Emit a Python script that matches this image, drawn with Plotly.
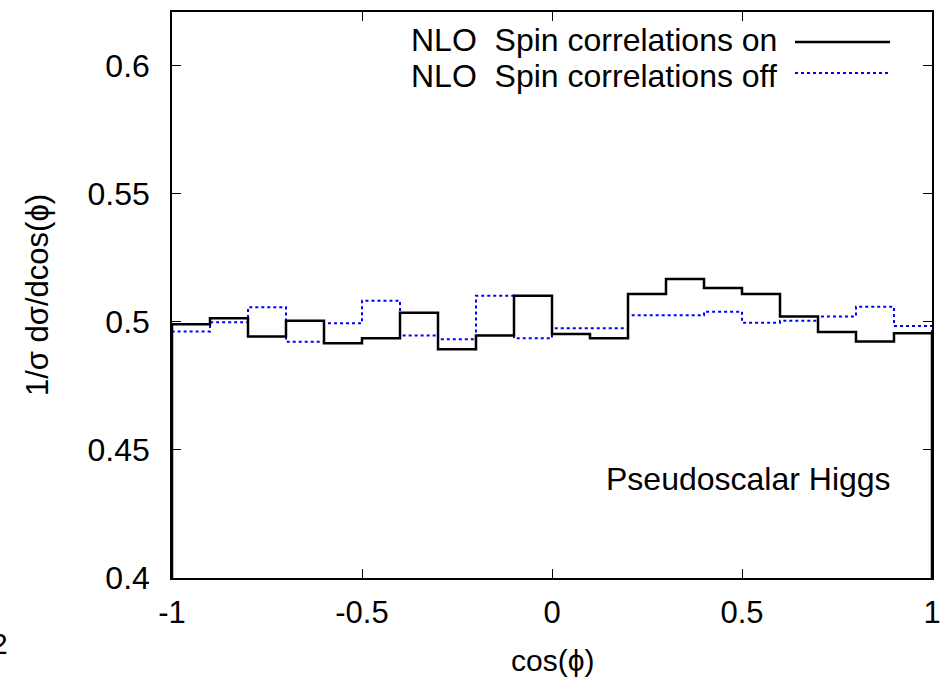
import plotly.graph_objects as go

# Bin edges of cos(phi) histogram (20 bins of width 0.1)
bin_edges = [round(-1 + 0.1 * i, 1) for i in range(21)]

spin_on = [0.4991, 0.5014, 0.4943, 0.5004, 0.4917, 0.4936, 0.5036, 0.4893, 0.4947, 0.5102,
           0.4953, 0.4936, 0.5109, 0.5167, 0.5132, 0.5109, 0.5021, 0.4961, 0.4923, 0.4956]
spin_off = [0.4962, 0.4999, 0.5057, 0.4922, 0.4995, 0.5083, 0.4947, 0.4932, 0.5102, 0.4936,
            0.4975, 0.4975, 0.5026, 0.5026, 0.5040, 0.4997, 0.5004, 0.5021, 0.5059, 0.4984]

x_ticks = [-1, -0.5, 0, 0.5, 1]
x_ticklabels = ["-1", "-0.5", "0", "0.5", "1"]
y_ticks = [0.4, 0.45, 0.5, 0.55, 0.6]
y_ticklabels = ["0.4", "0.45", "0.5", "0.55", "0.6"]
y_floor = 0.4

legend_labels = ["NLO\u00a0\u00a0Spin correlations on", "NLO\u00a0\u00a0Spin correlations off"]

FONT = "Liberation Sans, Arial, Helvetica, sans-serif"


def step_xy(vals):
    xs = [bin_edges[0]] + bin_edges[:-1] + [bin_edges[-1]]
    ys = [y_floor] + list(vals) + [y_floor]
    return xs, ys


fig = go.Figure()
xo, yo = step_xy(spin_on)
xf, yf = step_xy(spin_off)
fig.add_trace(go.Scatter(x=xf, y=yf, mode="lines", line_shape="hv",
                         line=dict(color="#0000ff", width=2, dash="3px,3px"),
                         name=legend_labels[1], showlegend=False))
fig.add_trace(go.Scatter(x=xo, y=yo, mode="lines", line_shape="hv",
                         line=dict(color="black", width=2.5),
                         name=legend_labels[0], showlegend=False))

W, H = 946, 679
ml, mr, mt, mb = 172, 14, 12, 101
pw, ph = W - ml - mr, H - mt - mb


def px(xp):
    return (xp - ml) / pw


def py(yp):
    return (H - mb - yp) / ph


fig.update_layout(
    width=W, height=H,
    margin=dict(l=ml, r=mr, t=mt, b=mb, pad=0, autoexpand=False),
    paper_bgcolor="white", plot_bgcolor="white",
    font=dict(family=FONT, size=32, color="black"),
    xaxis=dict(range=[-1, 1], tickvals=x_ticks, ticktext=x_ticklabels,
               ticks="inside", ticklen=9, tickwidth=1, tickcolor="black",
               showline=True, linecolor="black", linewidth=1.5, mirror="ticks",
               showgrid=False, zeroline=False, ticklabelstandoff=6,
               tickfont=dict(size=31), automargin=False),
    yaxis=dict(range=[0.4, 0.621], tickvals=y_ticks, ticktext=y_ticklabels,
               ticks="inside", ticklen=9, tickwidth=1, tickcolor="black",
               showline=True, linecolor="black", linewidth=1.5, mirror="ticks",
               showgrid=False, zeroline=False, ticklabelstandoff=14,
               tickfont=dict(size=32), automargin=False),
    showlegend=False,
)

ann = []
# axis titles
ann.append(dict(text="cos(\u03d5)", xref="paper", yref="paper", x=0.5, y=py(660),
                xanchor="center", yanchor="middle", showarrow=False, font=dict(size=30)))
ann.append(dict(text="1/\u03c3 d\u03c3/dcos(\u03d5)", xref="paper", yref="paper", x=px(37), y=0.5,
                xanchor="center", yanchor="middle", textangle=-90, showarrow=False,
                font=dict(size=31)))
# legend text
ann.append(dict(text=legend_labels[0], xref="paper", yref="paper", x=px(779), y=py(40),
                xanchor="right", yanchor="middle", showarrow=False, font=dict(size=32)))
ann.append(dict(text=legend_labels[1], xref="paper", yref="paper", x=px(779), y=py(76),
                xanchor="right", yanchor="middle", showarrow=False, font=dict(size=32)))
# label
ann.append(dict(text="Pseudoscalar Higgs", xref="paper", yref="paper", x=px(893), y=py(479),
                xanchor="right", yanchor="middle", showarrow=False, font=dict(size=32)))
# clipped fragment at bottom-left
ann.append(dict(text="2", xref="paper", yref="paper", x=px(-1), y=py(643),
                xanchor="center", yanchor="middle", showarrow=False, font=dict(size=30)))
fig.update_layout(annotations=ann)

fig.add_shape(type="line", xref="paper", yref="paper", x0=px(795), x1=px(890),
              y0=py(42), y1=py(42), line=dict(color="black", width=2.5))
fig.add_shape(type="line", xref="paper", yref="paper", x0=px(795), x1=px(890),
              y0=py(73), y1=py(73), line=dict(color="#0000ff", width=2, dash="3px,3px"))

fig.write_html("out.html")
